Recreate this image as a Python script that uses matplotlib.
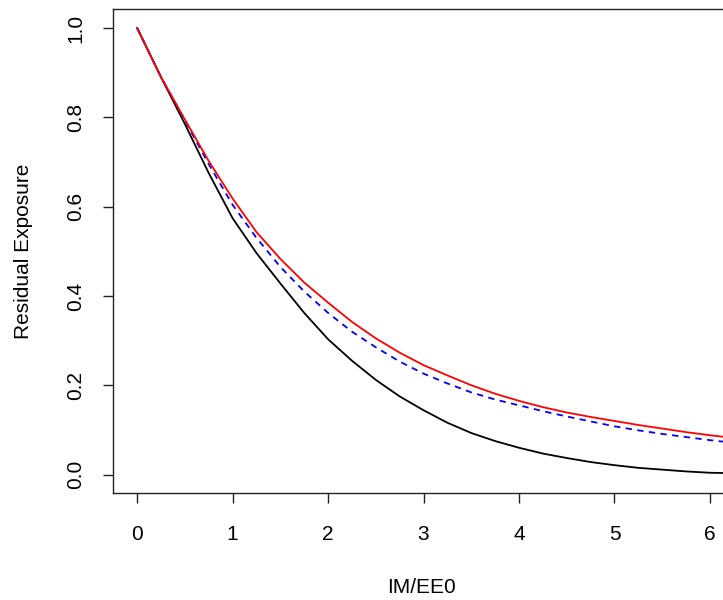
import numpy as np
import matplotlib
matplotlib.use("Agg")
import matplotlib.pyplot as plt

# values
im_ee0 = [0.0, 0.25, 0.5, 0.75, 1.0, 1.25, 1.5, 1.75, 2.0, 2.25, 2.5, 2.75, 3.0,
          3.25, 3.5, 3.75, 4.0, 4.25, 4.5, 4.75, 5.0, 5.25, 5.5, 5.75, 6.0, 6.25]
black_curve = [1.00, 0.89, 0.785, 0.675, 0.574, 0.496, 0.428, 0.362, 0.303, 0.255,
               0.212, 0.175, 0.144, 0.116, 0.093, 0.075, 0.060, 0.047, 0.037, 0.028,
               0.021, 0.015, 0.011, 0.007, 0.004, 0.003]
blue_curve = [1.00, 0.89, 0.793, 0.695, 0.604, 0.530, 0.465, 0.410, 0.362, 0.320,
              0.285, 0.253, 0.226, 0.204, 0.184, 0.168, 0.155, 0.142, 0.130, 0.119,
              0.108, 0.099, 0.091, 0.084, 0.077, 0.071]
red_curve = [1.00, 0.89, 0.795, 0.702, 0.618, 0.543, 0.483, 0.430, 0.385, 0.342,
             0.305, 0.273, 0.245, 0.222, 0.200, 0.181, 0.165, 0.151, 0.139, 0.129,
             0.120, 0.111, 0.103, 0.095, 0.088, 0.082]
x_ticks = [0, 1, 2, 3, 4, 5, 6]
y_ticks = [0.0, 0.2, 0.4, 0.6, 0.8, 1.0]

plt.rcParams['font.family'] = ['Liberation Sans', 'DejaVu Sans']
plt.rcParams['font.size'] = 15

fig = plt.figure(figsize=(7.23, 6.0), dpi=100)
# the plot box runs a little past the right edge of the picture
ax = fig.add_axes([113.3 / 723, 1 - 493.3 / 600, (730 - 113.3) / 723, (493.3 - 9.3) / 600])

ax.plot(im_ee0, black_curve, color='black', lw=1.3)
ax.plot(im_ee0, blue_curve, color='#0000FF', lw=1.3, dashes=(3.5, 3))
ax.plot(im_ee0, red_curve, color='#FF0000', lw=1.3)

ax.set_xlim(-0.25, 6.21)
ax.set_ylim(-0.042, 1.042)
ax.set_xticks(x_ticks)
ax.set_yticks(y_ticks)
ax.set_yticklabels(['%.1f' % v for v in y_ticks], rotation=90, va='center')
ax.tick_params(length=7, width=1, color='#222222')
ax.tick_params(axis='x', pad=16)
ax.tick_params(axis='y', pad=13)

for s in ax.spines.values():
    s.set_color('#222222')
    s.set_linewidth(1)

ax.set_xlabel('IM/EE0', labelpad=24)
ax.set_ylabel('Residual Exposure', labelpad=24)

fig.savefig('out.png', dpi=100)
